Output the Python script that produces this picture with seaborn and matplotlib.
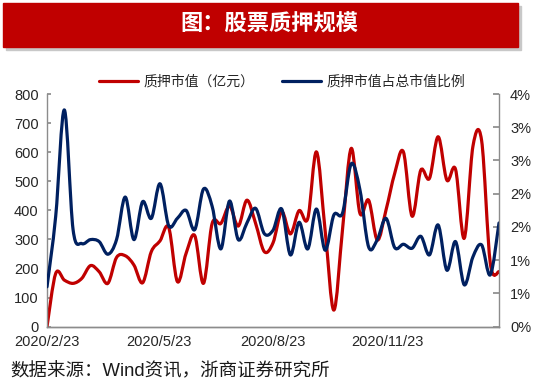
import pandas as pd
import matplotlib
matplotlib.use("Agg")
import matplotlib.pyplot as plt
import seaborn as sns
from matplotlib.path import Path
from matplotlib.patches import PathPatch, Rectangle
from matplotlib.lines import Line2D
import matplotlib.dates as mdates

# weekly data, 2020/2/23 onwards
start_date = '2020-02-23'
pledge_value = [0, 183, 160, 149, 166, 210, 189, 149, 238, 244,
                212, 151, 258, 295, 341, 155, 252, 313, 149, 355,
                355, 415, 346, 435, 355, 258, 288, 395, 319, 399,
                372, 601, 330, 57, 335, 613, 390, 435, 298, 401,
                527, 601, 380, 538, 510, 653, 504, 541, 304, 620,
                640, 218, 189]
pledge_ratio = [0.60, 1.66, 3.26, 1.46, 1.25, 1.31, 1.28, 1.09, 1.31, 1.95,
                1.31, 1.88, 1.63, 2.15, 1.52, 1.63, 1.75, 1.46, 2.07, 1.81,
                1.17, 1.89, 1.31, 1.56, 1.78, 1.40, 1.45, 1.77, 1.08, 1.57,
                1.17, 1.77, 1.15, 1.68, 1.71, 2.45, 2.06, 1.20, 1.31, 1.63,
                1.19, 1.24, 1.18, 1.36, 1.08, 1.53, 0.85, 1.28, 0.63, 1.05,
                1.23, 0.78, 1.56]
tick_dates = ['2020-02-23', '2020-05-23', '2020-08-23', '2020-11-23']
tick_labels = ['2020/2/23', '2020/5/23', '2020/8/23', '2020/11/23']
left_ticks = [0, 100, 200, 300, 400, 500, 600, 700, 800]
right_ticks = [0, 0.5, 1.0, 1.5, 2.0, 2.5, 3.0, 3.5]
right_labels = ['0%', '1%', '1%', '2%', '2%', '3%', '3%', '4%']

dates = pd.date_range(start_date, periods=len(pledge_value), freq='7D')
df = pd.DataFrame({'date': dates, 'value': pledge_value, 'ratio': pledge_ratio})

RED = '#C00000'
NAVY = '#002060'
GREY = '#8c8c8c'

sns.set_theme(style='white')
plt.rcParams['font.family'] = ['Liberation Sans', 'Noto Sans CJK SC', 'DejaVu Sans']


def smooth_patch(x, y, color):
    # excel style smoothed line: catmull-rom as bezier segments
    n = len(x)
    verts = [(x[0], y[0])]
    codes = [Path.MOVETO]
    for i in range(n - 1):
        p0 = i - 1 if i > 0 else i
        p3 = i + 2 if i + 2 < n else i + 1
        c1 = (x[i] + (x[i + 1] - x[p0]) / 6, y[i] + (y[i + 1] - y[p0]) / 6)
        c2 = (x[i + 1] - (x[p3] - x[i]) / 6, y[i + 1] - (y[p3] - y[i]) / 6)
        verts += [c1, c2, (x[i + 1], y[i + 1])]
        codes += [Path.CURVE4] * 3
    return PathPatch(Path(verts, codes), facecolor='none', edgecolor=color,
                     lw=2.3, capstyle='round', joinstyle='round')


fig = plt.figure(figsize=(5.5, 3.87), dpi=100)

# title banner
fig.patches.append(Rectangle((6 / 550, 1 - 50 / 387), 515 / 550, 44 / 387,
                             transform=fig.transFigure, color='#c8c8c8', zorder=0))
fig.patches.append(Rectangle((3 / 550, 1 - 47 / 387), 515 / 550, 44 / 387,
                             transform=fig.transFigure, color=RED, zorder=1))
fig.text(269 / 550, 1 - 25 / 387, '图：股票质押规模', color='white', fontsize=16,
         fontweight='bold', ha='center', va='center')

ax = fig.add_axes([47 / 550, 1 - 326.7 / 387, 452 / 550, 232.7 / 387])
ax2 = ax.twinx()

xnum = mdates.date2num(df['date'])
ax.add_patch(smooth_patch(xnum, df['value'].values, RED))
ax2.add_patch(smooth_patch(xnum, df['ratio'].values, NAVY))

ax.set_xlim(xnum[0], xnum[-1])
ax.set_ylim(0, 800)
ax2.set_ylim(0, 3.5)

ax.set_yticks(left_ticks)
ax.set_yticklabels([str(t) for t in left_ticks])
ax2.set_yticks(right_ticks)
ax2.set_yticklabels(right_labels)
ax.set_xticks(mdates.date2num(pd.to_datetime(tick_dates)))
ax.set_xticklabels(tick_labels)

for a in (ax, ax2):
    for s in a.spines.values():
        s.set_color(GREY)
        s.set_linewidth(1.0)
    a.spines['top'].set_visible(False)
    a.grid(False)
ax.spines['right'].set_visible(False)
ax2.spines['left'].set_visible(False)

ax.tick_params(axis='y', direction='in', length=3, color=GREY, labelsize=10.5, pad=6)
ax.tick_params(axis='x', direction='in', length=4, color=GREY, labelsize=10.5, pad=6)
ax2.tick_params(axis='y', direction='in', length=4, color=GREY, labelsize=10.5, pad=8)

handles = [Line2D([], [], color=RED, lw=2.3), Line2D([], [], color=NAVY, lw=2.3)]
fig.legend(handles, ['质押市值（亿元）', '质押市值占总市值比例'], loc='center',
           bbox_to_anchor=(282 / 550, 1 - 82 / 387), ncol=2, frameon=False,
           fontsize=10, handlelength=2.8, columnspacing=2.0, handletextpad=0.4)

fig.text(10 / 550, 1 - 372 / 387, '数据来源：Wind资讯，浙商证券研究所', fontsize=13.3,
         ha='left', va='center', color='#1a1a1a')

fig.savefig('out.png', dpi=100)
